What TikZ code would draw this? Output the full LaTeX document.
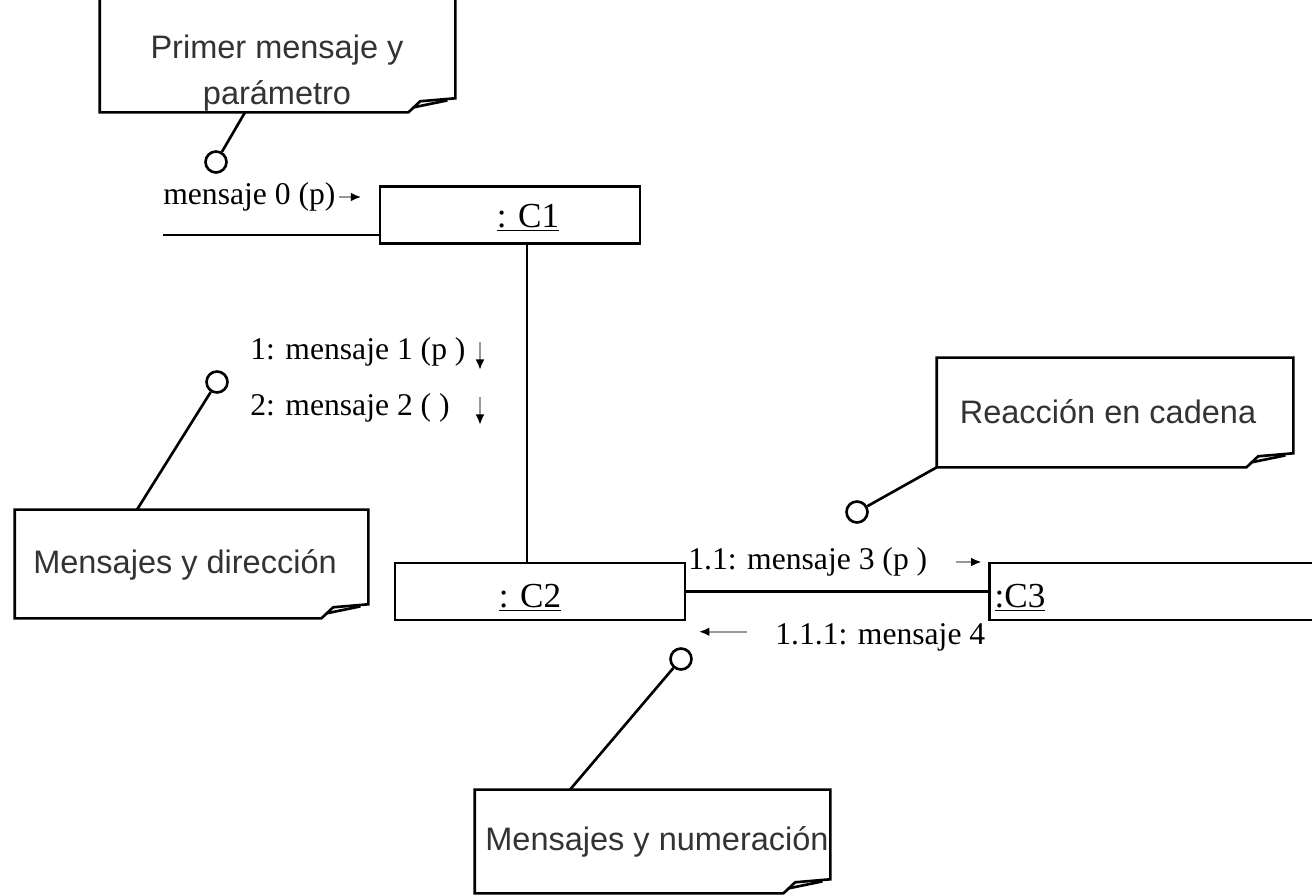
\documentclass[tikz,border=0pt]{standalone}
\usepackage{fontspec}
\setmainfont{Liberation Serif}
\setsansfont{Liberation Sans}
\usetikzlibrary{arrows.meta}

% comment box with the curled lower right corner
\newcommand{\foldnote}[1]{%
  \draw[notebox] (#1.north west) -- (#1.north east) -- ([yshift=8pt]#1.south east)
    -- ([xshift=-20pt,yshift=6.3pt]#1.south east) -- ([xshift=-26.7pt]#1.south east)
    -- (#1.south west) -- cycle;
  \draw[notebox] ([xshift=-24pt,yshift=2.8pt]#1.south east) -- ([xshift=-4.5pt,yshift=6.8pt]#1.south east);
}

\tikzset{
  notebox/.style={line width=1.5pt, line join=miter},
  note/.style={minimum width=7.1cm, inner sep=0pt},
  notetext/.style={font=\sffamily\fontsize{18.5}{26.5}\selectfont, text=black!80, align=center, inner sep=0pt},
  obj/.style={draw, line width=1.5pt, minimum height=1.14cm, inner sep=0pt},
  objname/.style={font=\fontsize{20}{24}\selectfont, inner sep=0pt},
  msg/.style={font=\fontsize{18}{22}\selectfont, anchor=west, inner sep=0pt},
  msgarrow/.style={-{Latex[length=6pt,width=5pt,black]}, line width=1.3pt, black!40},
  pinhead/.style={circle, draw, line width=1.5pt, minimum size=0.42cm, inner sep=0pt},
  pin/.style={line width=1.5pt},
}

\begin{document}
\begin{tikzpicture}[x=0.02cm, y=-0.02cm]
    \clip (0,0) rectangle (1312,895);
    \fill[white] (0,0) rectangle (1312,895);

    % objects
    \node[obj, minimum width=5.2cm] (c1) at (510,215) {};
    \node[obj, minimum width=5.8cm] (c2) at (540,591.5) {};
    \node[obj, minimum width=6.9cm] (c3) at (1162,591.5) {};
    \node[objname] (c1name) at (528,218) {\underline{: C1}};
    \node[objname] (c2name) at (530,598) {\underline{: C2}};
    \node[objname] (c3name) at (1020,598) {\underline{:C3}};

    % links
    \coordinate (start) at (163,235);
    \draw[line width=1.5pt] (start) -- (start -| c1.west);
    \draw[line width=1.5pt] (c1.south -| 527,0) -- (c2.north -| 527,0);
    \draw[line width=1.5pt] (c2.east) -- (c3.west);

    % messages
    \node[msg] (m0) at (163,197) {mensaje 0 (p)};
    \node[msg] (m1) at (250,352) {1: mensaje 1 (p )};
    \node[msg] (m2) at (250,408) {2: mensaje 2 ( )};
    \node[msg] (m3) at (688,562) {1.1: mensaje 3 (p )};
    \node[msg] (m4) at (775,637) {1.1.1: mensaje 4};
    \draw[msgarrow] ([xshift=2pt]m0.east) -- ++(22,0);
    \draw[msgarrow] (480,342) -- (480,370);
    \draw[msgarrow] (480,397) -- (480,425);
    \draw[msgarrow] ([xshift=16pt]m3.east) -- ++(26,0);
    \draw[msgarrow] ([xshift=-16pt,yshift=3pt]m4.west) -- ++(-48,0);

    % notes
    \node[note, minimum height=2.64cm] (nprm) at (277.5,46) {};
    \node[note, minimum height=2.16cm, minimum width=7.06cm] (ndir) at (191.5,564) {};
    \node[note, minimum height=2.18cm, minimum width=7.12cm] (ncad) at (1115,412.5) {};
    \node[note, minimum height=2.06cm] (nnum) at (652.5,841.5) {};
    \foreach \n in {nprm,ndir,ncad,nnum} \foldnote{\n};
    \node[notetext] (tprm) at (277,73) {Primer mensaje y\\parámetro};
    \node[notetext] (tdir) at (185,565) {Mensajes y dirección};
    \node[notetext] (tcad) at (1108,412) {Reacción en cadena};
    \node[notetext] (tnum) at (657,842) {Mensajes y numeración};

    % anchors of the notes
    \node[pinhead] (pprm) at (216,162) {};
    \node[pinhead] (pdir) at (217,382) {};
    \node[pinhead] (pcad) at (857,512) {};
    \node[pinhead] (pnum) at (681,659) {};
    \draw[pin] (nprm.south -| 245,0) -- (pprm);
    \draw[pin] (ndir.north -| 137,0) -- (pdir);
    \draw[pin] (ncad.south west) -- (pcad);
    \draw[pin] (nnum.north -| 570,0) -- (pnum);
\end{tikzpicture}
\end{document}
